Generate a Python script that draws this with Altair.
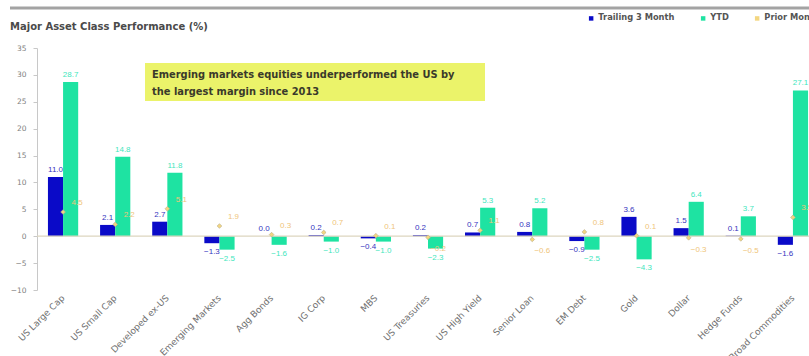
import altair as alt
import pandas as pd

categories = ["US Large Cap", "US Small Cap", "Developed ex-US", "Emerging Markets",
              "Agg Bonds", "IG Corp", "MBS", "US Treasuries", "US High Yield",
              "Senior Loan", "EM Debt", "Gold", "Dollar", "Hedge Funds",
              "Broad Commodities"]
trailing_3m = [11.0, 2.1, 2.7, -1.3, 0.0, 0.2, -0.4, 0.2, 0.7, 0.8, -0.9, 3.6, 1.5, 0.1, -1.6]
ytd = [28.7, 14.8, 11.8, -2.5, -1.6, -1.0, -1.0, -2.3, 5.3, 5.2, -2.5, -4.3, 6.4, 3.7, 27.1]
prior_month = [4.5, 2.2, 5.1, 1.9, 0.3, 0.7, 0.1, -0.2, 1.1, -0.6, 0.8, 0.1, -0.3, -0.5, 3.5]
series_names = ["Trailing 3 Month", "YTD", "Prior Month"]
series_colors = ["#0a0ac8", "#1ee3a2", "#f3d680"]
label_colors = ["#3535c0", "#3fe6bd", "#efc57a"]
y_ticks = [-10, -5, 0, 5, 10, 15, 20, 25, 30, 35]

rows = []
for i, c in enumerate(categories):
    rows.append({"category": c, "series": series_names[0], "value": trailing_3m[i]})
    rows.append({"category": c, "series": series_names[1], "value": ytd[i]})
    rows.append({"category": c, "series": series_names[2], "value": prior_month[i]})
df = pd.DataFrame(rows)

W, H = 772, 242
font = "Liberation Sans"
wide = "DejaVu Sans"

xscale = alt.Scale(domain=categories, range=[0, 782], paddingInner=0.42, paddingOuter=0.21)
yscale = alt.Scale(domain=[-10, 35], nice=False, zero=False)
cscale = alt.Scale(domain=series_names, range=series_colors)
offscale = alt.Scale(domain=series_names[:2], paddingInner=0, paddingOuter=0)

y_axis = alt.Axis(title=None, values=y_ticks, grid=False,
                  domainColor="#c8c8c8", tickColor="#c8c8c8", tickSize=4,
                  labelFontSize=7.5, labelColor="#808080", labelFont=wide,
                  labelPadding=7, labelOverlap=False, labelFlush=False)
x_axis = alt.Axis(title=None, labelAngle=-45, labelAlign="right", labelBaseline="middle",
                  domain=False, ticks=False, labelPadding=6, labelFontSize=9,
                  labelColor="#707070", labelFont=wide, labelOverlap=False,
                  labelLimit=200)


def X():
    return alt.X("category:N", sort=categories, scale=xscale, axis=x_axis)


def Y(field="value:Q"):
    return alt.Y(field, scale=yscale, axis=y_axis)


base = alt.Chart(df)
bars_df = base.transform_filter(alt.FieldOneOfPredicate(field="series", oneOf=series_names[:2]))
off = alt.XOffset("series:N", scale=offscale, sort=series_names[:2])

bars = bars_df.mark_bar().encode(
    x=X(), y=Y(), xOffset=off,
    color=alt.Color("series:N", scale=cscale, sort=series_names,
                    legend=alt.Legend(title=None, orient="none", legendX=550, legendY=-34,
                                      direction="horizontal", symbolType="square",
                                      symbolSize=20, labelFontSize=8.3, labelFont=wide,
                                      labelFontWeight="bold", labelColor="#555555",
                                      columnPadding=24, symbolOffset=0, labelOffset=3,
                                      padding=0)),
)

zero = base.transform_aggregate(n="count()").transform_calculate(z="0").mark_rule(
    color="#ddd6bf", strokeWidth=1.2).encode(y=Y("z:Q"))

lab_color = alt.Color("series:N", scale=alt.Scale(domain=series_names, range=label_colors), legend=None)

pos_labels = bars_df.transform_filter("datum.value >= 0").mark_text(
    baseline="bottom", dy=-3, fontSize=8, font=font).encode(
    x=X(), xOffset=off, y=Y(), text=alt.Text("value:Q", format=".1f"), color=lab_color)

neg_labels = bars_df.transform_filter("datum.value < 0").mark_text(
    baseline="top", dy=5, fontSize=8, font=font).encode(
    x=X(), xOffset=off, y=Y(), text=alt.Text("value:Q", format=".1f"), color=lab_color)

prior_df = base.transform_filter(alt.FieldEqualPredicate(field="series", equal="Prior Month"))
prior_pts = prior_df.mark_point(shape="diamond", filled=True, size=22, opacity=1,
                                stroke="#b8ad8a", strokeWidth=0.6).encode(
    x=X(), y=Y(), color=alt.Color("series:N", scale=cscale, sort=series_names))

prior_pos = prior_df.transform_filter("datum.value >= 0").mark_text(
    dx=14, dy=-9, fontSize=8, font=font, color=label_colors[2]).encode(
    x=X(), y=Y(), text=alt.Text("value:Q", format=".1f"))
prior_neg = prior_df.transform_filter("datum.value < 0").mark_text(
    dx=10, dy=12, fontSize=8, font=font, color=label_colors[2]).encode(
    x=X(), y=Y(), text=alt.Text("value:Q", format=".1f"))

one = pd.DataFrame({"k": [1]})
top_line = alt.Chart(one).mark_rule(color="#a3a3a3", strokeWidth=3).encode(
    x=alt.value(-27), x2=alt.value(790), y=alt.value(-40))
title = alt.Chart(one).mark_text(align="left", baseline="middle", fontSize=10,
                                 fontWeight="bold", font=wide, color="#4a4a4a").encode(
    x=alt.value(-27), y=alt.value(-21), text=alt.value("Major Asset Class Performance (%)"))
box = alt.Chart(one).mark_rect(color="#ebf36a").encode(
    x=alt.value(108), x2=alt.value(448), y=alt.value(15), y2=alt.value(53))
note = alt.Chart(one).mark_text(align="left", baseline="middle", fontSize=9.9,
                                fontWeight="bold", font=wide, color="#3a3a2a",
                                lineHeight=17).encode(
    x=alt.value(115), y=alt.value(27),
    text=alt.value(["Emerging markets equities underperformed the US by",
                    "the largest margin since 2013"]))

chart = alt.layer(bars, zero, pos_labels, neg_labels, prior_pts, prior_pos, prior_neg,
                  top_line, title, box, note).properties(
    width=W, height=H,
    autosize=alt.AutoSizeParams(type="none"),
    padding={"left": 37, "top": 48, "right": 0, "bottom": 66},
    background="white",
).resolve_scale(color="independent").configure_view(stroke=None)

chart.save("out.html", embed_options={"renderer": "svg", "actions": False})
